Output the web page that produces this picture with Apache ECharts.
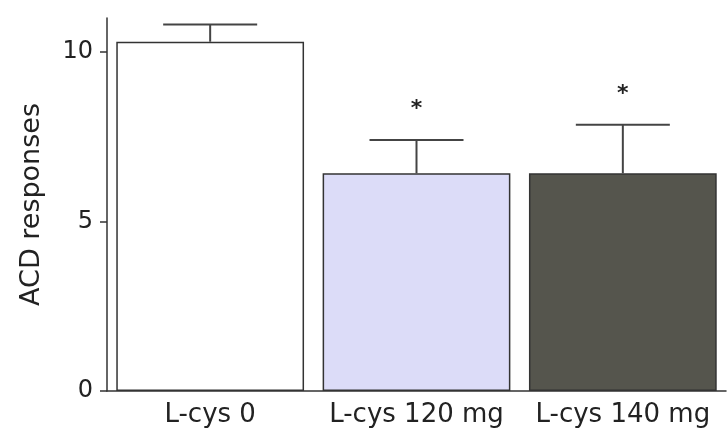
<!DOCTYPE html>
<html>
<head>
<meta charset="utf-8">
<script src="https://cdn.jsdelivr.net/npm/echarts@6/dist/echarts.min.js"></script>
<style>
  html, body { margin: 0; padding: 0; background: #fff; }
  #main { width: 727px; height: 434px; }
</style>
</head>
<body>
<div id="main"></div>
<script>
const categories = ["L-cys 0", "L-cys 120 mg", "L-cys 140 mg"];
const means = [10.3, 6.42, 6.42];
const errTops = [10.81, 7.4, 7.85];
const marks = ["", "*", "*"];
const barColors = ["#ffffff", "#dcdcf8", "#55554d"];
const yTicks = [0, 5, 10];

let chart = echarts.init(document.getElementById("main"));

let option = {
  animation: false,
  grid: { left: 107, right: 1, top: 18, bottom: 43 },
  xAxis: {
    type: "category",
    data: categories,
    axisLine: { lineStyle: { color: "#333", width: 1.5 } },
    axisTick: { alignWithLabel: true, length: 6, lineStyle: { color: "#333", width: 1.5 } },
    axisLabel: { interval: 0, color: "#222", fontSize: 26, fontFamily: "DejaVu Sans", margin: 11 }
  },
  yAxis: {
    type: "value",
    min: 0,
    max: 11,
    interval: 5,
    name: "ACD responses",
    nameLocation: "middle",
    nameGap: 62,
    nameTextStyle: { color: "#222", fontSize: 27, fontFamily: "DejaVu Sans" },
    splitLine: { show: false },
    axisLine: { show: true, lineStyle: { color: "#333", width: 1.5 } },
    axisTick: { show: true, length: 7, customValues: yTicks, lineStyle: { color: "#333", width: 1.5 } },
    axisLabel: {
      color: "#222", fontSize: 24, fontFamily: "DejaVu Sans", margin: 14,
      customValues: yTicks
    }
  },
  series: [
    {
      type: "bar",
      barCategoryGap: "9%",
      data: means.map((v, i) => ({
        value: v,
        itemStyle: { color: barColors[i], borderColor: "#333", borderWidth: 1.5 }
      })),
      z: 2
    },
    {
      type: "custom",
      data: means.map((v, i) => [i, v, errTops[i], marks[i]]),
      z: 3,
      renderItem: function (params, api) {
        let base = api.coord([api.value(0), api.value(1)]);
        let top = api.coord([api.value(0), api.value(2)]);
        let half = 47;
        let children = [
          { type: "line", shape: { x1: base[0], y1: base[1], x2: top[0], y2: top[1] },
            style: { stroke: "#444", lineWidth: 2 } },
          { type: "line", shape: { x1: top[0] - half, y1: top[1], x2: top[0] + half, y2: top[1] },
            style: { stroke: "#444", lineWidth: 2 } }
        ];
        let mark = marks[params.dataIndex];
        if (mark) {
          children.push({
            type: "text",
            x: top[0], y: top[1] - 31,
            style: { text: mark, fill: "#222", fontSize: 22, fontWeight: "bold",
                     fontFamily: "DejaVu Sans", align: "center", verticalAlign: "middle" }
          });
        }
        return { type: "group", children: children };
      }
    }
  ]
};
chart.setOption(option);
</script>
</body>
</html>
